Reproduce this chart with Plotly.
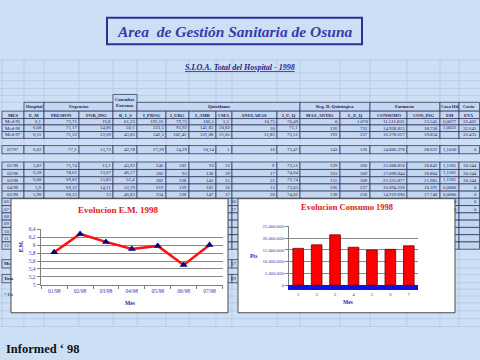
import plotly.graph_objects as go

W, H = 480, 360
def px(x): return x / W
def py(y): return 1 - y / H

# ---------------- data ----------------
months_1998 = ["01/98", "02/98", "03/98", "04/98", "05/98", "06/98", "07/98"]
em_1998 = [5.82, 6.28, 6.08, 5.9, 5.98, 5.5, 6.0]
consumo_mes = ["1", "2", "3", "4", "5", "6", "7"]
consumo_1998 = [15608818, 17098844, 21335877, 16094228, 14919690, 15200000, 16700000]

col_names = ["MES", "E_M", "PRESION", "FOR_ING", "R_1_S", "I_PROG", "I_URG", "I_AMB", "CMA",
             "ANULADAS", "I_U_Q", "MAS_ANTIG", "L_E_Q", "CONSUMO", "CON_ING", "EM", "EVA"]
group_names = ["Hospital", "Urgencias", "Consultas<br>Externas", "Quirófanos",
               "Reg. D. Quirúrgica", "Farmacia", "Casa Hti", "Costo"]
group_spans = [(1, 2), (2, 4), (4, 5), (5, 11), (11, 13), (13, 15), (15, 16), (16, 17)]

row_labels = ["Med-95", "Med-96", "Med-97", "07/97", "01/98", "02/98", "03/98", "04/98", "05/98"]
row_med95 = ["6,1", "73,71", "16,8", "61,23", "193,16", "79,75", "106,5", "5,5", "10,75", "70,49", "0", "1.070", "11.511.833", "13.545", "0,0077", "33.462"]
row_med96 = ["6,08", "71,17", "14,86", "50,1", "223,5", "95,92", "141,83", "20,82", "20", "71,1", "126", "732", "14.938.813", "18.738", "1,0031", "32.645"]
row_med97 = ["6,11", "71,33", "13,69", "43,83", "242,5", "102,42", "121,08", "21,05", "11,83", "73,51", "193", "237", "16.278.617", "19.834", "", "32.433"]
row_0797 = ["6,02", "77,2", "13,73", "42,78", "27,29", "14,29", "10,14", "1", "16", "73,47", "143", "136", "14.006.378", "28.622", "1,1030", "0"]
row_0198 = ["5,82", "71,74", "13,1", "43,93", "246", "102", "93", "12", "9", "73,51", "129", "366", "15.608.818", "18.842", "1,1181", "30.344"]
row_0298 = ["6,28", "78,61", "13,67", "46,17", "282", "93", "138", "39", "17", "74,04", "163", "309", "17.098.844", "18.884", "1,1181", "30.344"]
row_0398 = ["6,08", "69,82", "13,83", "52,4", "282", "128", "143", "35", "22", "73,74", "151", "209", "21.335.877", "21.985", "1,1181", "30.344"]
row_0498 = ["5,9", "69,32", "14,11", "52,29", "219", "129", "102", "30", "13", "73,03", "166", "237", "16.094.228", "18.391", "0,0880", "0"]
row_0598 = ["5,98", "68,33", "13", "46,83", "234", "128", "147", "37", "20", "74,02", "138", "220", "14.919.690", "17.740", "0,0880", "0"]
rows_values = [row_med95, row_med96, row_med97, row_0797, row_0198, row_0298, row_0398, row_0498, row_0598]

hidden_months = ["06/98", "07/98", "08/98", "09/98", "10/98", "11/98", "12/98"]
hidden_cma = ["30", "17", "", "", "", "", ""]
hidden_em = ["0", "0", "", "", "", "", ""]
hidden_eva = ["0", "0", "", "", "", "", ""]
summary_labels = ["Media", "Total"]
summary_mid = ["57", "309"]

# ---------------- layout geometry ----------------
col_edges = [2, 24, 44, 79, 113, 137, 166, 189, 216, 232, 277, 300, 340, 370, 407, 440, 459, 479.5]
row_bands = [(117.5, 124), (124, 130.7), (130.7, 137.7), (145, 153.3), (161.7, 169.3),
             (169.3, 176.7), (176.7, 184), (184, 191.3), (191.3, 198.6)]
hidden_bands = [(198.6 + 7.4 * i, 206 + 7.4 * i) for i in range(7)]
summary_bands = [(261, 269.5), (276, 284.5)]

BG = "#cddff5"
CELL = "#c3d7f1"
BORDER = "#2b2b55"
GRID = "#aebfdb"
TXT = "#1c1c50"
FONT = "Liberation Serif"

shapes = []
annotations = []

def rect(x0, y0, x1, y1, fill, line, lw=0.7):
    shapes.append(dict(type="rect", xref="paper", yref="paper", layer="below",
                       x0=px(x0), x1=px(x1), y0=py(y1), y1=py(y0),
                       fillcolor=fill, line=dict(color=line, width=lw)))

def hline(x0, x1, y, color, lw=0.6):
    shapes.append(dict(type="line", xref="paper", yref="paper", layer="below",
                       x0=px(x0), x1=px(x1), y0=py(y), y1=py(y), line=dict(color=color, width=lw)))

def vline(x, y0, y1, color, lw=0.6):
    shapes.append(dict(type="line", xref="paper", yref="paper", layer="below",
                       x0=px(x), x1=px(x), y0=py(y0), y1=py(y1), line=dict(color=color, width=lw)))

def text(x, y, s, size=5, color=TXT, anchor="center", bold=False, angle=0, family=FONT):
    if bold:
        s = "<b>" + s + "</b>"
    annotations.append(dict(xref="paper", yref="paper", x=px(x), y=py(y), text=s,
                            showarrow=False, xanchor=anchor, yanchor="middle",
                            textangle=angle, borderpad=0,
                            font=dict(size=size, color=color, family=family)))

# spreadsheet grid
sheet_rows = [58, 71, 79, 87, 94, 101, 110] + [b[0] for b in row_bands] + [137.7, 153.3] + \
             [b[0] for b in hidden_bands] + [250.4, 261, 269.5, 276, 284.5, 291, 298, 305, 313, 321, 329]
for y in sheet_rows:
    hline(0, 480, y, GRID)
for x in col_edges[:-1]:
    vline(x, 58, 329, GRID)

# title box
rect(107, 15, 362, 42, "rgba(0,0,0,0)", "#2e2e99", 2)
text(234.5, 28.5, "<i>Area  de Gestión Sanitaria de Osuna</i>", size=15.5, color="#3a3aa6", bold=True)
text(240, 66, "<u><i>S.I.O.A. Total del Hospital - 1998</i></u>", size=8, color="#262690", bold=True)

# table group headers
for name, (a, b) in zip(group_names, group_spans):
    y0 = 93 if "Externas" in name else 101
    rect(col_edges[a], y0, col_edges[b], 110, CELL, BORDER)
    text((col_edges[a] + col_edges[b]) / 2, (y0 + 110) / 2, name, size=4.6, bold=True)

# column header row
for i, name in enumerate(col_names):
    rect(col_edges[i], 110, col_edges[i + 1], 117.5, CELL, BORDER)
    text((col_edges[i] + col_edges[i + 1]) / 2, 113.9, name, size=4.6, bold=True)

# data rows
for (y0, y1), lab, vals in zip(row_bands, row_labels, rows_values):
    yc = (y0 + y1) / 2
    for i in range(len(col_names)):
        rect(col_edges[i], y0, col_edges[i + 1], y1, CELL, BORDER)
    text((col_edges[0] + col_edges[1]) / 2, yc, lab, size=4.8)
    for i, v in enumerate(vals):
        if v:
            text(col_edges[i + 2] - 1.5, yc, v, size=4.8, anchor="right")

# rows hidden behind the charts (only their edges show)
for (y0, y1) in hidden_bands:
    for i in range(len(col_names)):
        rect(col_edges[i], y0, col_edges[i + 1], y1, CELL, BORDER)
for (y0, y1) in summary_bands:
    for i in range(len(col_names) - 2):
        rect(col_edges[i], y0, col_edges[i + 1], y1, CELL, BORDER)

# chart boxes
rect(11, 199, 228, 315, "white", "#4a4a4a", 1)
rect(238, 199, 455, 315, "white", "#4a4a4a", 1)

# visible pieces of the hidden rows
for (y0, y1), m, c, e, v in zip(hidden_bands, hidden_months, hidden_cma, hidden_em, hidden_eva):
    yc = (y0 + y1) / 2
    text(3, yc, m[:2], size=4.8, anchor="left")
    if c:
        text(236.5, yc, c, size=4.8, anchor="right")
    if e:
        text(458, yc, e, size=4.8, anchor="right")
    if v:
        text(477.5, yc, v, size=4.8, anchor="right")
for (y0, y1), lab, mid in zip(summary_bands, summary_labels, summary_mid):
    yc = (y0 + y1) / 2
    text(3, yc, lab[:2] if lab == "Media" else lab[:4], size=4.8, anchor="left", bold=True)
    text(237, yc, mid[-2:], size=4.8, anchor="right")
text(3, 296, "* Da", size=4.8, anchor="left")

# bottom footer
text(5, 352, "Informed ‘ 98", size=12.5, color="#111111", anchor="left", bold=True)

# chart titles and axis titles
text(118.5, 210, "Evolucion E.M. 1998", size=9, color="#e01818", bold=True)
text(347, 207.5, "Evolucion Consumo 1998", size=8.5, color="#e01818", bold=True)
text(20.5, 248, "E.M.", size=5.5, color="#2020c0", bold=True, angle=-90)
text(130, 305, "Mes", size=5.5, color="#2020c0", bold=True)
text(253, 257, "Pts", size=5.5, color="#2020c0", bold=True)
text(348, 304, "Mes", size=5.5, color="#2020c0", bold=True)

# ---------------- figure ----------------
fig = go.Figure()
fig.add_trace(go.Scatter(x=months_1998, y=em_1998, mode="lines+markers",
                         line=dict(color="#ff1010", width=2.5),
                         marker=dict(symbol="triangle-up", size=7, color="#000080"),
                         xaxis="x", yaxis="y", showlegend=False))
fig.add_trace(go.Bar(x=consumo_mes, y=consumo_1998, width=0.58,
                     marker=dict(color="#ff0000", line=dict(color="#700000", width=0.8)),
                     xaxis="x2", yaxis="y2", showlegend=False))

tickfont = dict(size=5.5, color="#3535c0", family=FONT)
tickfont2 = dict(size=4.8, color="#3535c0", family=FONT)
fig.update_layout(
    width=W, height=H, margin=dict(l=0, r=0, t=0, b=0),
    paper_bgcolor=BG, plot_bgcolor="rgba(0,0,0,0)",
    separators=",.",
    shapes=shapes, annotations=annotations,
    xaxis=dict(domain=[px(40.7), px(223)], type="category", tickfont=tickfont,
               showgrid=False, showline=True, linecolor="#808080", linewidth=1,
               ticks="outside", tickson="boundaries", ticklen=3, tickcolor="#808080",
               anchor="y", fixedrange=True),
    yaxis=dict(domain=[py(286.7), py(230)], range=[5, 6.4], dtick=0.2, tickfont=tickfont,
               showgrid=True, gridcolor="#8a8a8a", gridwidth=1, zeroline=False,
               showline=True, linecolor="#808080", ticks="outside", ticklen=3,
               tickcolor="#808080", anchor="x"),
    xaxis2=dict(domain=[px(289), px(418)], type="category", tickfont=tickfont2,
                showgrid=False, showline=True, linecolor="#1010e0", linewidth=5,
                ticks="", anchor="y2"),
    yaxis2=dict(domain=[py(287), py(227)], range=[0, 25000000], dtick=5000000,
                tickformat=",d", tickfont=tickfont2, showgrid=True, gridcolor="#8a8a8a",
                gridwidth=1, zeroline=False, showline=True, linecolor="#808080",
                ticks="outside", ticklen=3, tickcolor="#808080", anchor="x2"),
)

fig.write_html("out.html", config={"displayModeBar": False},
               post_script="document.body.style.margin='0';document.body.style.padding='0';"
                           "document.body.style.overflow='hidden';")
